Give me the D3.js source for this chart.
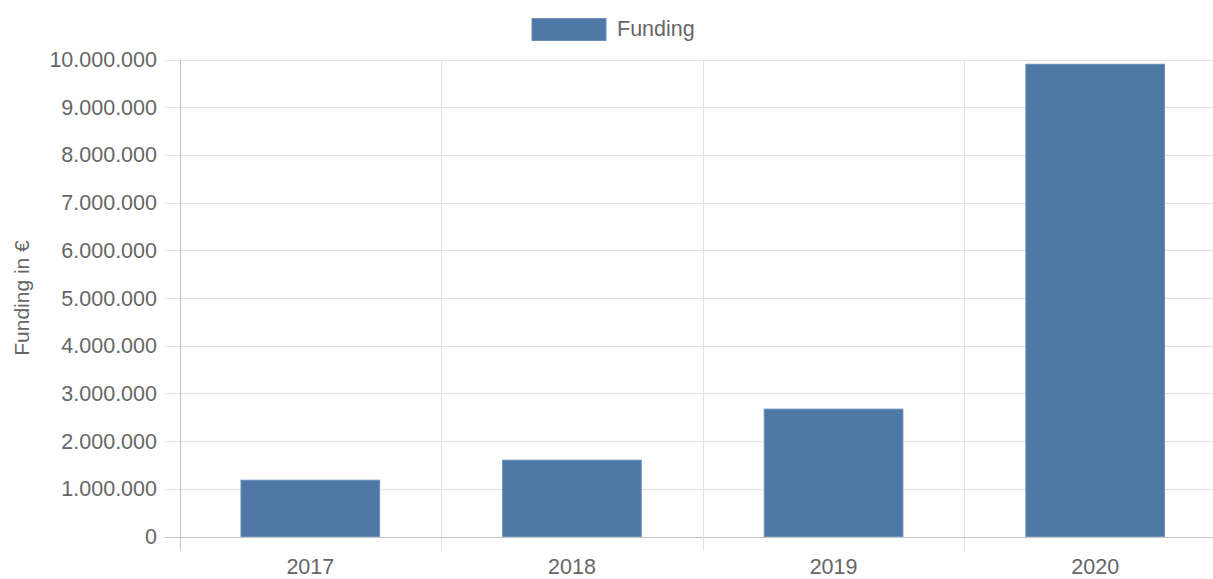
<!DOCTYPE html>
<html>
<head>
<meta charset="utf-8">
<script src="https://cdn.jsdelivr.net/npm/d3@7"></script>
<style>
  body { margin: 0; background: #fff; overflow: hidden; }
  text { font-family: "Liberation Sans", Arial, sans-serif; fill: #666; }
</style>
</head>
<body>
<div id="chart"></div>
<script>
var years = ['2017', '2018', '2019', '2020'];
var funding = [1180000, 1600000, 2670000, 9900000];
var yTicks = [0, 1000000, 2000000, 3000000, 4000000, 5000000, 6000000, 7000000, 8000000, 9000000, 10000000];

var W = 1213, H = 579;
var plotLeft = 179.5, plotRight = 1226, plotTop = 59.5, plotBottom = 536.5;

var svg = d3.select('#chart').append('svg')
  .attr('width', W)
  .attr('height', H);

var x = d3.scaleBand()
  .domain(years)
  .range([plotLeft, plotRight]);

var y = d3.scaleLinear()
  .domain([0, 10000000])
  .range([plotBottom, plotTop]);

var fmt = function(v) { return d3.format(',')(v).replace(/,/g, '.'); };

// horizontal grid + y ticks
svg.append('g')
  .selectAll('line')
  .data(yTicks)
  .enter().append('line')
  .attr('x1', plotLeft - 15)
  .attr('x2', plotRight)
  .attr('y1', d => Math.round(y(d)) + 0.5)
  .attr('y2', d => Math.round(y(d)) + 0.5)
  .style('stroke', d => d === 0 ? '#c4c4c4' : '#e2e2e2')
  .style('stroke-width', 1);

// vertical grid
var vlines = [plotLeft].concat(years.slice(1).map(d => x(d)));
svg.append('g')
  .selectAll('line')
  .data(vlines)
  .enter().append('line')
  .attr('x1', d => Math.round(d) + 0.5)
  .attr('x2', d => Math.round(d) + 0.5)
  .attr('y1', plotTop)
  .attr('y2', plotBottom + 14)
  .style('stroke', (d, i) => i === 0 ? '#c4c4c4' : '#e2e2e2');

// y labels
svg.append('g')
  .selectAll('text')
  .data(yTicks)
  .enter().append('text')
  .attr('x', 157)
  .attr('y', d => y(d))
  .attr('dy', '0.35em')
  .attr('text-anchor', 'end')
  .style('font-size', '21.5px')
  .text(fmt);

// x labels
svg.append('g')
  .selectAll('text')
  .data(years)
  .enter().append('text')
  .attr('x', d => x(d) + x.bandwidth() / 2)
  .attr('y', 574)
  .attr('text-anchor', 'middle')
  .style('font-size', '21.5px')
  .text(d => d);

// bars
var bw = x.bandwidth() * 0.53;
svg.append('g')
  .selectAll('rect')
  .data(funding)
  .enter().append('rect')
  .attr('x', (d, i) => x(years[i]) + (x.bandwidth() - bw) / 2)
  .attr('y', d => y(d))
  .attr('width', bw)
  .attr('height', d => plotBottom - y(d))
  .style('fill', '#4e78a6')
  .style('stroke', '#6a8fb8')
  .style('stroke-width', 1);

// y title
svg.append('text')
  .attr('transform', 'translate(29,298) rotate(-90)')
  .attr('text-anchor', 'middle')
  .style('font-size', '21px')
  .text('Funding in €');

// legend
svg.append('rect')
  .attr('x', 532)
  .attr('y', 18.5)
  .attr('width', 74)
  .attr('height', 22)
  .style('fill', '#4e78a6')
  .style('stroke', '#6a8fb8');

svg.append('text')
  .attr('x', 617)
  .attr('y', 28.5)
  .attr('dy', '0.35em')
  .style('font-size', '21.5px')
  .text('Funding');
</script>
</body>
</html>
